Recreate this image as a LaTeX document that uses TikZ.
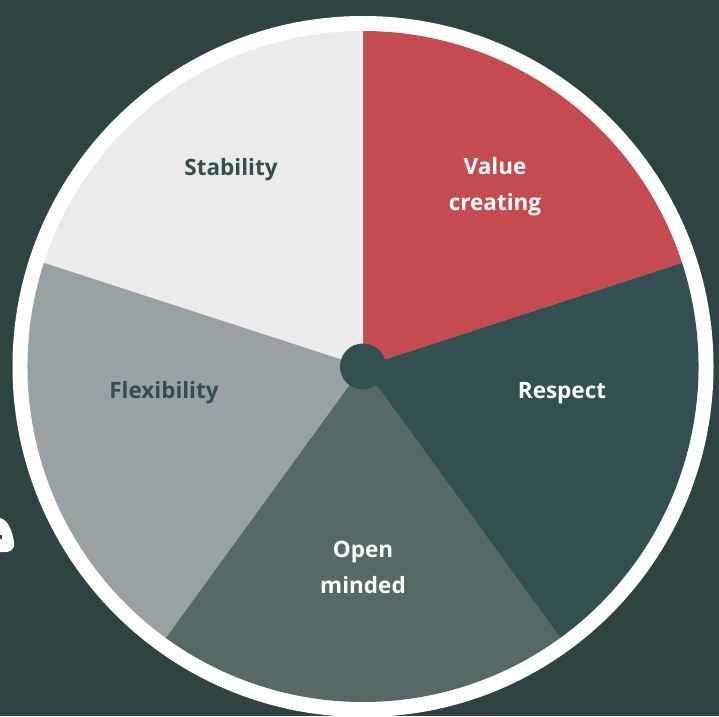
\documentclass[tikz,border=0pt]{standalone}
\usepackage{fontspec}
\setmainfont{Open Sans}
\definecolor{bgcol}{HTML}{2E4442}
\definecolor{valuecol}{HTML}{C64B50}
\definecolor{respectcol}{HTML}{344F4F}
\definecolor{opencol}{HTML}{576967}
\definecolor{flexcol}{HTML}{98A2A5}
\definecolor{stabcol}{HTML}{EBEBEB}
\definecolor{darktext}{HTML}{33504F}
\tikzset{
  label/.style={font=\fontsize{22.5}{36}\selectfont\bfseries, align=center, inner sep=0pt},
  lightlabel/.style={label, text=white},
  darklabel/.style={label, text=darktext}
}
\begin{document}
\begin{tikzpicture}[x=1pt,y=1pt]
      \fill[bgcol] (0,0) rectangle (719,716);
      \useasboundingbox (0,0) rectangle (719,716);
      \coordinate (c) at (363,349.5);
      % white rim
      \fill[white] (c) circle[radius=350.5pt];
      % slices
      \fill[valuecol] (c) -- ++(18:335.5pt) arc[start angle=18, end angle=90, radius=335.5pt] -- cycle;
      \fill[stabcol] (c) -- ++(90:335.5pt) arc[start angle=90, end angle=162, radius=335.5pt] -- cycle;
      \fill[flexcol] (c) -- ++(162:335.5pt) arc[start angle=162, end angle=234, radius=335.5pt] -- cycle;
      \fill[opencol] (c) -- ++(234:335.5pt) arc[start angle=234, end angle=306, radius=335.5pt] -- cycle;
      \fill[respectcol] (c) -- ++(306:335.5pt) arc[start angle=306, end angle=378, radius=335.5pt] -- cycle;
      % hub
      \fill[respectcol] (c) circle[radius=23pt];
      % cut-off shape at the left edge
      \fill[white] (0,198) .. controls (8,196) and (12,186) .. (14,174) .. controls (15,166) and (10,163) .. (0,164) -- cycle;
      \fill[bgcol] (0,177) rectangle (2,181);
      % labels
      \node[lightlabel] (value) at (495,529) {Value\\creating};
      \node[darklabel] (stability) at (231,546) {Stability};
      \node[darklabel] (flexibility) at (164,323) {Flexibility};
      \node[lightlabel] (open) at (363,149) {Open\\minded};
      \node[lightlabel] (respect) at (562,323) {Respect};
\end{tikzpicture}
\end{document}
